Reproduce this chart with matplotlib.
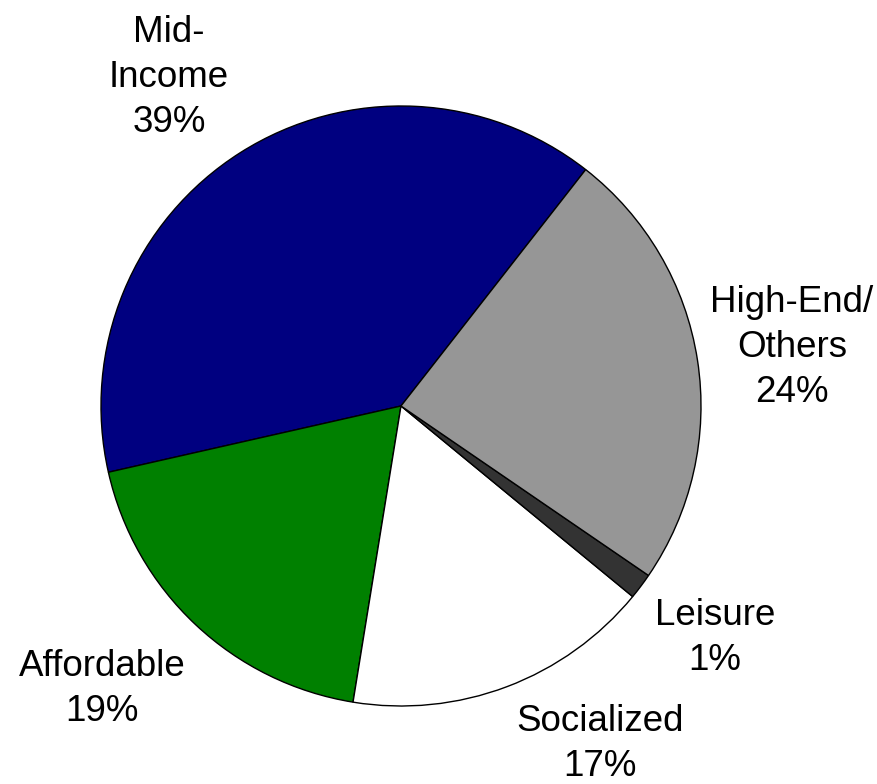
import matplotlib.pyplot as plt

# Slice shares (counter-clockwise from the Mid-Income / High-End boundary)
segments = ['Mid-\nIncome', 'Affordable', 'Socialized', 'Leisure', 'High-End/\nOthers']
shares = [39.1, 18.9, 16.6, 1.4, 24.0]
pct_labels = ['39%', '19%', '17%', '1%', '24%']
colors = ['#000080', '#008000', '#ffffff', '#333333', '#969696']

plt.rcParams['font.family'] = ['Liberation Sans', 'DejaVu Sans']

fig = plt.figure(figsize=(8.78, 7.84), dpi=100)
ax = fig.add_axes([0, 0, 1, 1])

ax.pie(shares, colors=colors, startangle=52, counterclock=True,
       radius=300, center=(401, 378), frame=True,
       wedgeprops=dict(edgecolor='black', linewidth=1.0))
ax.set_xlim(0, 878)
ax.set_ylim(0, 784)
ax.set_aspect('equal')
ax.axis('off')

# label anchor points (centre x, baseline of last line), in pixels from bottom-left
label_pos = [(169, 652), (102, 63), (600, 8), (715, 114), (792, 382)]
for name, pct, (x, y) in zip(segments, pct_labels, label_pos):
    ax.text(x, y, name + '\n' + pct, ha='center', va='baseline',
            fontsize=26.5, linespacing=1.37, multialignment='center')

fig.savefig('out.png', dpi=100)
